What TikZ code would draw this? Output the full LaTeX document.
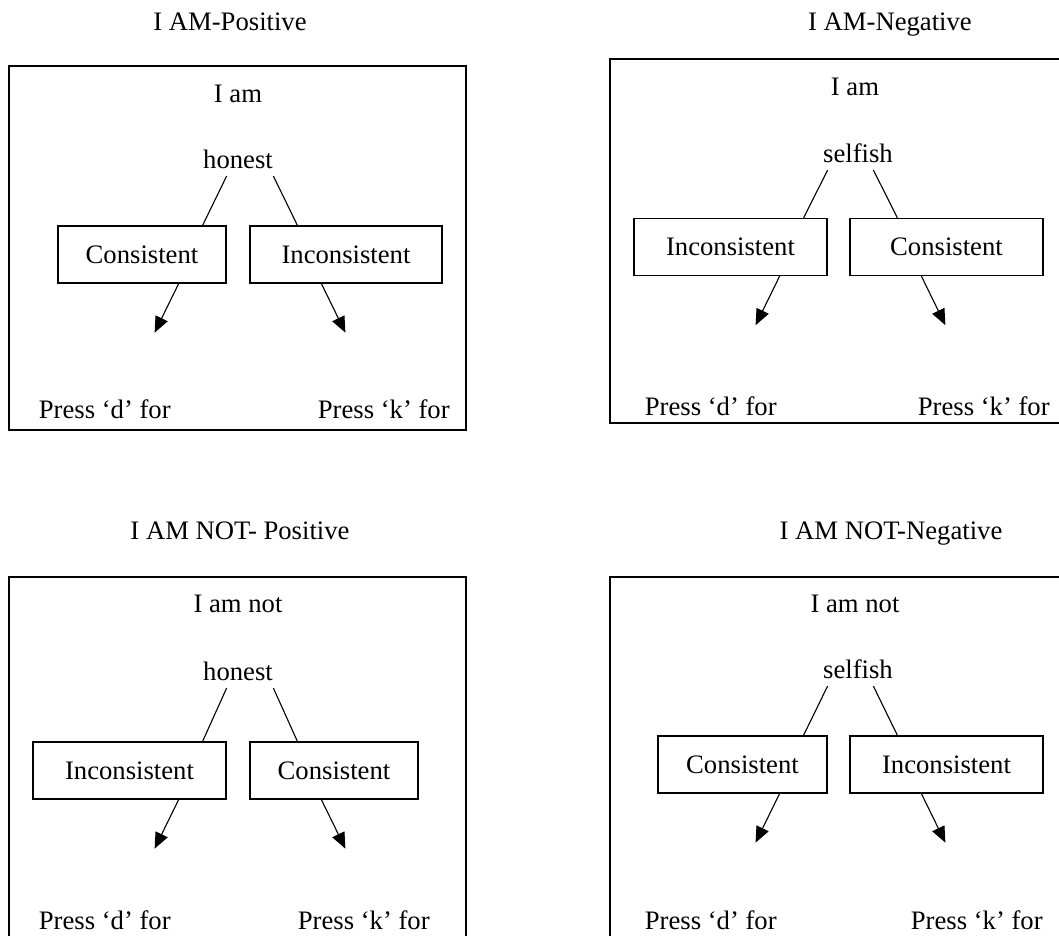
\documentclass[tikz,border=0pt]{standalone}
\usepackage{fontspec}
\setmainfont{Liberation Serif}
\usetikzlibrary{arrows.meta,calc}

\begin{document}
\begin{tikzpicture}[>={Triangle[length=7.2pt,width=6pt]},x=0.45pt,y=-0.45pt,font=\fontsize{12pt}{14pt}\selectfont,
		choice/.style={draw,line width=0.55pt,minimum height=25.7pt,inner sep=0pt},
		lbl/.style={anchor=base},
		press/.style={anchor=base west}]
			  \useasboundingbox (0,0) rectangle (1059,935);
			  \tikzset{frame/.style={draw,line width=0.9pt}, link/.style={line width=0.5pt}}

			  % I AM - Positive
			  \node[lbl]            (t1) at (230,30)      {I AM-Positive};
			  \draw[frame] (9,66) rectangle (466,430);
			  \node[lbl]            (s1) at (238,102)     {I am};
			  \node[lbl]            (w1) at (238,168)     {honest};
			  \node[choice, minimum width=75.6pt]  (l1) at (142,254.5) {Consistent};
			  \node[choice, minimum width=86.4pt]  (r1) at (346,254.5) {Inconsistent};
			  \node[press]          (d1) at (31,418)      {Press ‘d’ for};
			  \node[press]          (k1) at (310,418)     {Press ‘k’ for};

			  % I AM - Negative
			  \node[lbl]            (t2) at (890,30)      {I AM-Negative};
			  \draw[frame] (610,59) rectangle (1065,423);
			  \node[lbl]            (s2) at (855,95)      {I am};
			  \node[lbl]            (w2) at (858,162)     {selfish};
			  \node[choice, minimum width=86.85pt] (l2) at (730.5,247) {Inconsistent};
			  \node[choice, minimum width=86.85pt] (r2) at (946.5,247) {Consistent};
			  \begin{scope}
			  \clip (600,380) rectangle (1059,415.5);
			  \node[press]          (d2) at (637,415)     {Press ‘d’ for};
			  \node[press]          (k2) at (910,415)     {Press ‘k’ for};
			  \end{scope}

			  % I AM NOT - Positive
			  \node[lbl]            (t3) at (240,539)     {I AM NOT- Positive};
			  \draw[frame] (9,577) rectangle (466,945);
			  \node[lbl]            (s3) at (238,612)     {I am not};
			  \node[lbl]            (w3) at (238,680)     {honest};
			  \node[choice, minimum width=86.85pt] (l3) at (129.5,770.5) {Inconsistent};
			  \node[choice, minimum width=75.6pt]  (r3) at (334,770.5)   {Consistent};

			  % I AM NOT - Negative
			  \node[lbl]            (t4) at (891,539)     {I AM NOT-Negative};
			  \draw[frame] (610,577) rectangle (1065,945);
			  \node[lbl]            (s4) at (855,612)     {I am not};
			  \node[lbl]            (w4) at (858,678)     {selfish};
			  \node[choice, minimum width=76pt]    (l4) at (742.5,764.5) {Consistent};
			  \node[choice, minimum width=86.85pt] (r4) at (946.5,764.5) {Inconsistent};

			  \begin{scope}
			  \clip (0,890) rectangle (1059,930);
			  \node[press]          (d3) at (31,929)      {Press ‘d’ for};
			  \node[press]          (k3) at (290,929)     {Press ‘k’ for};
			  \node[press]          (d4) at (637,929)     {Press ‘d’ for};
			  \node[press]          (k4) at (903,929)     {Press ‘k’ for};
			  \end{scope}

			\draw[link] (l1.north east |- w1.south) -- ($(l1.north east)+(-24,0)$);
			\draw[link] ($(r1.north west |- w1.south)+(24,0)$) -- ($(r1.north west)+(48,0)$);
			\draw[link] (l2.north east |- w2.south) -- ($(l2.north east)+(-24,0)$);
			\draw[link] ($(r2.north west |- w2.south)+(24,0)$) -- ($(r2.north west)+(48,0)$);
			\draw[link] (l3.north east |- w3.south) -- ($(l3.north east)+(-24,0)$);
			\draw[link] ($(r3.north west |- w3.south)+(24,0)$) -- ($(r3.north west)+(48,0)$);
			\draw[link] (l4.north east |- w4.south) -- ($(l4.north east)+(-24,0)$);
			\draw[link] ($(r4.north west |- w4.south)+(24,0)$) -- ($(r4.north west)+(48,0)$);

			\draw[link,->] ($(l1.south east)+(-48,0)$) -- ++(-24,49);
			\draw[link,->] ($(r1.south west)+(72,0)$) -- ++(24,49);
			\draw[link,->] ($(l2.south east)+(-48,0)$) -- ++(-24,49);
			\draw[link,->] ($(r2.south west)+(72,0)$) -- ++(24,49);
			\draw[link,->] ($(l3.south east)+(-48,0)$) -- ++(-24,49);
			\draw[link,->] ($(r3.south west)+(72,0)$) -- ++(24,49);
			\draw[link,->] ($(l4.south east)+(-48,0)$) -- ++(-24,49);
			\draw[link,->] ($(r4.south west)+(72,0)$) -- ++(24,49);
		\end{tikzpicture}
\end{document}
